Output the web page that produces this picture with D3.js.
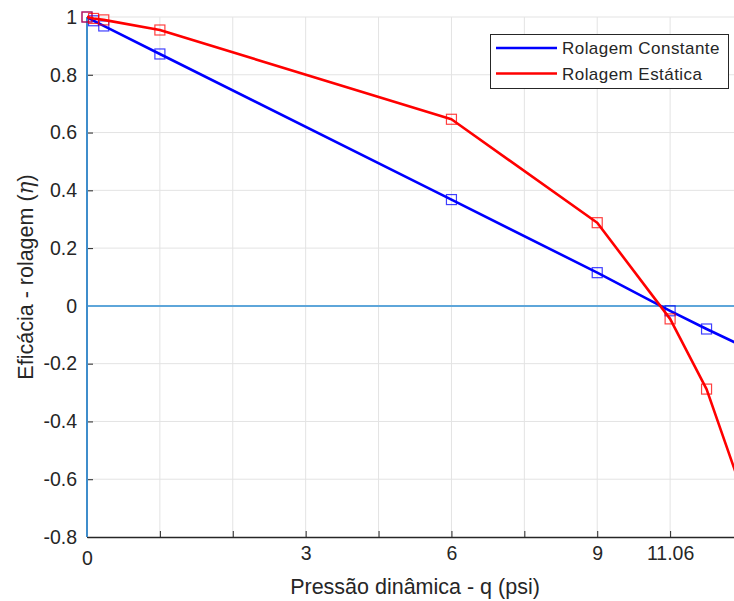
<!DOCTYPE html>
<html>
<head>
<meta charset="utf-8">
<script src="https://cdn.jsdelivr.net/npm/d3@7"></script>
<style>
  html, body { margin: 0; padding: 0; background: #fff; }
  svg { display: block; }
  text { font-family: "Liberation Sans", Arial, sans-serif; fill: #262626; }
</style>
</head>
<body>
<script>
// ---- data (x in axis units, labels customised as in the original) ----
const xValues = [0, 0.09, 0.23, 1, 5, 7, 8, 8.5, 9];
const rolagemConstante = [1.0, 0.987, 0.969, 0.872, 0.368, 0.115, -0.017, -0.080, -0.14];
const rolagemEstatica  = [1.0, 0.995, 0.990, 0.955, 0.646, 0.288, -0.045, -0.288, -0.65];
const seriesNames = ["Rolagem Constante", "Rolagem Estática"];
const seriesColors = ["#0000ff", "#ff0000"];
const xTickValues = [0, 1, 2, 3, 4, 5, 6, 7, 8, 9];
const xTickLabels = ["0", "", "", "3", "", "6", "", "9", "11.06", ""];
const yTickValues = [-0.8, -0.6, -0.4, -0.2, 0, 0.2, 0.4, 0.6, 0.8, 1];
const yTickLabels = ["-0.8", "-0.6", "-0.4", "-0.2", "0", "0.2", "0.4", "0.6", "0.8", "1"];

const W = 734, H = 601;
const svg = d3.select("body").append("svg").attr("width", W).attr("height", H);

const x = d3.scaleLinear().domain([0, 9]).range([87, 743]);
const y = d3.scaleLinear().domain([-0.8, 1]).range([537, 17]);

// grid
const grid = svg.append("g");
grid.selectAll("line.vg").data(xTickValues.slice(1)).join("line")
  .attr("x1", d => x(d)).attr("x2", d => x(d))
  .attr("y1", y(1)).attr("y2", y(-0.8))
  .attr("stroke", "#e3e3e3").attr("stroke-width", 1);
grid.selectAll("line.hg").data(yTickValues.slice(1)).join("line")
  .attr("x1", x(0)).attr("x2", x(9))
  .attr("y1", d => y(d)).attr("y2", d => y(d))
  .attr("stroke", "#e3e3e3").attr("stroke-width", 1);

// x axis (ticks inward)
const xAxis = d3.axisBottom(x).tickValues(xTickValues)
  .tickFormat((d, i) => xTickLabels[i]).tickSizeInner(-6).tickSizeOuter(0).tickPadding(9);
const gx = svg.append("g").attr("transform", `translate(0,${y(-0.8)})`).call(xAxis);
gx.select(".domain").attr("stroke", "#262626").attr("stroke-width", 1.3);
gx.selectAll(".tick line").attr("stroke", "#262626");
gx.selectAll(".tick text").attr("font-size", 19.5).attr("fill", "#262626")
  .attr("font-family", '"Liberation Sans", Arial, sans-serif')
  .attr("dy", (d, i) => i === 0 ? "0.98em" : "0.72em");

// y axis (ticks inward)
const yAxis = d3.axisLeft(y).tickValues(yTickValues)
  .tickFormat((d, i) => yTickLabels[i]).tickSizeInner(-6).tickSizeOuter(0).tickPadding(10);
const gy = svg.append("g").attr("transform", `translate(${x(0)},0)`).call(yAxis);
gy.select(".domain").attr("stroke", "#262626");
gy.selectAll(".tick line").attr("stroke", "#262626");
gy.selectAll(".tick text").attr("font-size", 19.5).attr("fill", "#262626")
  .attr("font-family", '"Liberation Sans", Arial, sans-serif');

// reference lines at q=0 and eta=0
svg.append("line")
  .attr("x1", x(0)).attr("x2", x(9)).attr("y1", y(0)).attr("y2", y(0))
  .attr("stroke", "#5ea6da").attr("stroke-width", 2);
svg.append("line")
  .attr("x1", x(0)).attr("x2", x(0)).attr("y1", y(1)).attr("y2", y(-0.8))
  .attr("stroke", "#3f8dcb").attr("stroke-width", 2);

// clip for lines
svg.append("clipPath").attr("id", "plotclip").append("rect")
  .attr("x", x(0)).attr("y", y(1) - 2).attr("width", x(9) - x(0)).attr("height", y(-0.8) - y(1) + 2);

const seriesData = [rolagemConstante, rolagemEstatica];
const line = d3.line().x(d => x(d[0])).y(d => y(d[1]));

seriesData.forEach((vals, si) => {
  const pts = xValues.map((xv, i) => [xv, vals[i]]);
  svg.append("path").datum(pts)
    .attr("clip-path", "url(#plotclip)")
    .attr("d", line).attr("fill", "none")
    .attr("stroke", seriesColors[si]).attr("stroke-width", 2.6)
    .attr("stroke-linejoin", "round");
  svg.append("g").selectAll("rect").data(pts).join("rect")
    .attr("x", d => x(d[0]) - 5).attr("y", d => y(d[1]) - 5)
    .attr("width", 10).attr("height", 10)
    .attr("fill", "none").attr("stroke", seriesColors[si])
    .attr("stroke-opacity", 0.75).attr("stroke-width", 1.2);
});

// axis labels
svg.append("text").attr("x", (x(0) + x(9)) / 2).attr("y", 594)
  .attr("text-anchor", "middle").attr("font-size", 21.5)
  .text("Pressão dinâmica - q (psi)");

const yl = svg.append("text")
  .attr("transform", `translate(33,${(y(1) + y(-0.8)) / 2}) rotate(-90)`)
  .attr("text-anchor", "middle").attr("font-size", 21.5);
yl.append("tspan").text("Eficácia - rolagem (");
yl.append("tspan").attr("font-family", '"DejaVu Serif", "Liberation Serif", serif')
  .attr("font-style", "italic").text("η");
yl.append("tspan").text(")");

// legend
const lg = svg.append("g");
lg.append("rect").attr("x", 490.5).attr("y", 34.5).attr("width", 238).attr("height", 54)
  .attr("fill", "#fff").attr("stroke", "#262626").attr("stroke-width", 1);
seriesNames.forEach((name, i) => {
  const cy = 48 + i * 25.5;
  lg.append("line").attr("x1", 496).attr("x2", 557).attr("y1", cy).attr("y2", cy)
    .attr("stroke", seriesColors[i]).attr("stroke-width", 2.6);
  lg.append("text").attr("x", 562).attr("y", cy + 6).attr("font-size", 17)
    .attr("letter-spacing", 0.45).text(name);
});
</script>
</body>
</html>
